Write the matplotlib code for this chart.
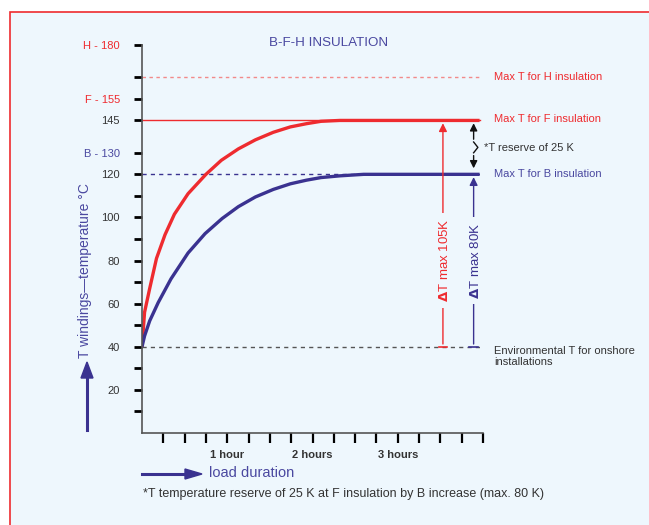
import matplotlib.pyplot as plt
from matplotlib.patches import Rectangle

# curve readings (hours, deg C)
t_f = [0, 0.03, 0.09, 0.17, 0.27, 0.38, 0.54, 0.75, 0.93, 1.13, 1.33, 1.54, 1.74, 1.93, 2.1, 2.32, 3.96]
T_f = [40, 56, 67, 81, 92, 101.5, 111, 120, 126.5, 131.8, 136, 139.5, 142, 143.5, 144.6, 145, 145]
t_b = [0, 0.03, 0.09, 0.19, 0.34, 0.54, 0.74, 0.94, 1.13, 1.33, 1.54, 1.74, 1.93, 2.1, 2.32, 2.6, 3.96]
T_b = [40, 45, 52, 60.5, 71.5, 83.5, 92.5, 99.5, 105, 109.5, 113, 115.6, 117.3, 118.5, 119.3, 120, 120]

yticks = [10, 20, 30, 40, 50, 60, 70, 80, 90, 100, 110, 120, 130, 145, 155, 165, 180]
ylabels = ['', '20', '', '40', '', '60', '', '80', '', '100', '', '120', 'B - 130', '145', 'F - 155', '', 'H - 180']
xticks = [i * 0.25 for i in range(1, 17)]
hour_labels = {1.0: '1 hour', 2.0: '2 hours', 3.0: '3 hours'}

T_env, T_B, T_F, T_H = 40, 120, 145, 165

RED = '#ee2b2f'
BLUE = '#3a3290'
LBLUE = '#4a48a0'
GRAY = '#333333'
BG = '#eef7fd'
plt.rcParams['font.family'] = ['Liberation Sans', 'DejaVu Sans']

fig = plt.figure(figsize=(6.49, 5.25), dpi=100, facecolor='white')
fig.patches.append(Rectangle((10 / 649, -0.1), 1.2, 0.977 + 0.1, transform=fig.transFigure,
                             facecolor=BG, edgecolor=RED, linewidth=1.2, zorder=-10))

ax = fig.add_axes([142 / 649, 92 / 525, 341 / 649, 388 / 525])
ax.patch.set_alpha(0)
ax.set_xlim(0, 4)
ax.set_ylim(0, 180)

for s in ['top', 'right']:
    ax.spines[s].set_visible(False)
for s in ['left', 'bottom']:
    ax.spines[s].set_color('#555555')
    ax.spines[s].set_linewidth(1.2)

ax.set_yticks(yticks)
ax.set_yticklabels(ylabels, fontsize=8)
ax.tick_params(axis='y', length=6, width=2, color='black', pad=10)
for lab, txt in zip(ax.get_yticklabels(), ylabels):
    if txt.startswith('H') or txt.startswith('F'):
        lab.set_color(RED)
    elif txt.startswith('B'):
        lab.set_color(LBLUE)
    else:
        lab.set_color(GRAY)

ax.set_xticks(xticks)
ax.set_xticklabels([hour_labels.get(x, '') for x in xticks], fontsize=8, fontweight='bold', color=GRAY)
ax.tick_params(axis='x', length=7, width=1.6, color='black', pad=5)

# reference lines
ax.plot([0, 3.96], [T_H, T_H], color='#f28a8a', lw=1, ls=(0, (2.5, 2.5)))
ax.plot([0, 3.96], [T_F, T_F], color=RED, lw=1)
ax.plot([0, 3.96], [T_B, T_B], color=BLUE, lw=1, ls=(0, (3, 3)))
ax.plot([0, 3.96], [T_env, T_env], color='#555555', lw=1, ls=(0, (3, 3)))

# heating curves
ax.plot(t_f, T_f, color=RED, lw=2.4, solid_joinstyle='round', solid_capstyle='butt')
ax.plot(t_b, T_b, color=BLUE, lw=2.4, solid_joinstyle='round', solid_capstyle='butt')

# delta T arrows
xr, xb = 3.53, 3.89
ax.annotate('', xy=(xr, T_F), xytext=(xr, T_env),
            arrowprops=dict(arrowstyle='-|>', color=RED, lw=1, mutation_scale=12))
ax.annotate('', xy=(xb, T_B), xytext=(xb, T_env),
            arrowprops=dict(arrowstyle='-|>', color=BLUE, lw=1, mutation_scale=12))
ax.text(xr + 0.02, 80, r'$\mathbf{\Delta}$T max 105K', rotation=90, color=RED, fontsize=9.5,
        ha='center', va='center', bbox=dict(facecolor=BG, edgecolor='none', pad=4))
ax.text(xb + 0.02, 80, r'$\mathbf{\Delta}$T max 80K', rotation=90, color=BLUE, fontsize=9.5,
        ha='center', va='center', bbox=dict(facecolor=BG, edgecolor='none', pad=4))
ax.plot([xr - 0.05, xr + 0.05], [T_env, T_env], color=RED, lw=1.2)
ax.plot([xb - 0.05, xb + 0.05], [T_env, T_env], color=BLUE, lw=1.2)

# reserve arrow
ax.annotate('', xy=(xb, T_F), xytext=(xb, 135),
            arrowprops=dict(arrowstyle='-|>', color='#111111', lw=1, mutation_scale=11))
ax.annotate('', xy=(xb, T_B + 1.5), xytext=(xb, 130),
            arrowprops=dict(arrowstyle='-|>', color='#111111', lw=1, mutation_scale=11))
ax.plot([xb, xb + 0.05, xb], [135, 132.5, 130], color='#111111', lw=1)

# right-hand labels
ax.text(4.13, T_H, 'Max T for H insulation', color=RED, fontsize=8, va='center', clip_on=False)
ax.text(4.13, T_F + 0.5, 'Max T for F insulation', color=RED, fontsize=8, va='center', clip_on=False)
ax.text(4.13, T_B, 'Max T for B insulation', color=LBLUE, fontsize=8, va='center', clip_on=False)
ax.text(4.01, 132, '*T reserve of 25 K', color=GRAY, fontsize=8, va='center', clip_on=False)
ax.text(4.13, 35.5, 'Environmental T for onshore\ninstallations', color=GRAY, fontsize=8,
        va='center', linespacing=1.15, clip_on=False)

# titles and axis captions
fig.text(329 / 649, 1 - 43 / 525, 'B-F-H INSULATION', color=LBLUE, fontsize=9.6, ha='center', va='center')
fig.text(85 / 649, 1 - 271 / 525, 'T windings\u2014temperature \u00b0C', color=LBLUE, fontsize=10,
         rotation=90, ha='center', va='center')
fig.add_artist(plt.Line2D([87 / 649, 87 / 649], [1 - 430 / 525, 1 - 375 / 525], color=BLUE, lw=2.2))
fig.patches.append(plt.Polygon([[81 / 649, 1 - 378 / 525], [93 / 649, 1 - 378 / 525], [87 / 649, 1 - 362 / 525]],
                               closed=True, transform=fig.transFigure, color=BLUE))
fig.add_artist(plt.Line2D([142 / 649, 190 / 649], [1 - 474 / 525, 1 - 474 / 525], color=BLUE, lw=2.2))
fig.patches.append(plt.Polygon([[185 / 649, 1 - 469 / 525], [185 / 649, 1 - 479 / 525], [202 / 649, 1 - 474 / 525]],
                               closed=True, transform=fig.transFigure, color=BLUE))
fig.text(209 / 649, 1 - 473 / 525, 'load duration', color=LBLUE, fontsize=10.5, va='center')
fig.text(143 / 649, 1 - 494 / 525, '*T temperature reserve of 25 K at F insulation by B increase (max. 80 K)',
         color=GRAY, fontsize=9, va='center')

fig.savefig('out.png', dpi=100, facecolor=fig.get_facecolor())
